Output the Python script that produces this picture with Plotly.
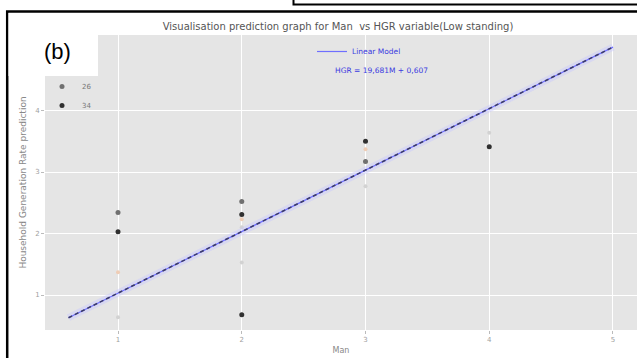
import plotly.graph_objects as go

# Observed predictions, grouped by colour category
man_34 = [1, 2, 2, 3, 4]
hgr_34 = [2.03, 2.31, 0.68, 3.50, 3.41]
man_26 = [1, 2, 3]
hgr_26 = [2.34, 2.52, 3.17]
man_light = [1, 2, 3]
hgr_light = [1.37, 2.23, 3.37]
man_pale = [1, 2, 2, 3, 4]
hgr_pale = [0.64, 1.53, 2.10, 2.77, 3.64]

# Linear model HGR = slope * M + intercept
slope = 19.681
intercept = 0.607
fit_man = [0.6, 5.0]
fit_hgr = [slope * m + intercept for m in fit_man]

x_ticks = [1, 2, 3, 4, 5]
y_ticks = [1, 2, 3, 4]

W, H = 637, 358
L, R, T, B = 45, 0, 35, 28
x_range = [0.41, 5.194]
y_range = [0.431, 5.228]


def px_x(px):
    return (px - L) / (W - L - R)


def px_y(py):
    return (H - B - py) / (H - B - T)


FONT = "DejaVu Sans"
fig = go.Figure()

fig.add_trace(go.Scatter(x=man_pale, y=hgr_pale, mode="markers", showlegend=False,
                         marker=dict(size=4, color="#d2d2d2")))
fig.add_trace(go.Scatter(x=man_light, y=hgr_light, mode="markers", showlegend=False,
                         marker=dict(size=4, color="#efcdb6")))
fig.add_trace(go.Scatter(x=man_26, y=hgr_26, mode="markers", name="26",
                         marker=dict(size=5, color="#707070")))
fig.add_trace(go.Scatter(x=man_34, y=hgr_34, mode="markers", name="34",
                         marker=dict(size=5, color="#303030")))

# Fitted line on a secondary HGR scale
fig.add_trace(go.Scatter(x=fit_man, y=fit_hgr, yaxis="y2", mode="lines", showlegend=False,
                         line=dict(color="rgba(200,200,255,0.45)", width=7), hoverinfo="skip"))
fig.add_trace(go.Scatter(x=fit_man, y=fit_hgr, yaxis="y2", mode="lines", name="Linear Model",
                         legend="legend2", line=dict(color="#6f6fff", width=1.2)))
fig.add_trace(go.Scatter(x=fit_man, y=fit_hgr, yaxis="y2", mode="lines", showlegend=False,
                         line=dict(color="#3b3b6a", width=1.6, dash="4px,3px"), hoverinfo="skip"))

shapes = [
    # frame of the panel above
    dict(type="path", xref="paper", yref="paper",
         path=f"M {px_x(293.5)} {px_y(-2)} L {px_x(293.5)} {px_y(4.5)} L {px_x(640)} {px_y(4.5)}",
         line=dict(color="black", width=2)),
    # panel frame
    dict(type="path", xref="paper", yref="paper",
         path=f"M {px_x(7.2)} {px_y(362)} L {px_x(7.2)} {px_y(11.5)} L {px_x(640)} {px_y(11.5)}",
         line=dict(color="black", width=2.5)),
    # label background
    dict(type="rect", xref="paper", yref="paper", layer="above",
         x0=px_x(8.5), x1=px_x(98), y0=px_y(76), y1=px_y(13),
         fillcolor="white", line=dict(width=0)),
]

annotations = [
    dict(text="(b)", xref="paper", yref="paper", x=px_x(57), y=px_y(52),
         showarrow=False, font=dict(family="Liberation Sans", size=22, color="black"),
         xanchor="center", yanchor="middle"),
    dict(text=f"HGR = {slope:.3f}M + {intercept:.3f}".replace(".", ","),
         xref="paper", yref="paper", x=px_x(333), y=px_y(70),
         showarrow=False, font=dict(family=FONT, size=7.5, color="#3a3ae0"),
         xanchor="left", yanchor="middle"),
]

fig.update_layout(
    width=W, height=H,
    margin=dict(l=L, r=R, t=T, b=B),
    paper_bgcolor="white",
    plot_bgcolor="#e5e5e5",
    font=dict(family=FONT, color="#888888"),
    title=dict(text="Visualisation prediction graph for Man  vs HGR variable(Low standing)",
               x=338 / W, xref="container", y=1 - 26 / H, yref="container",
               xanchor="center", yanchor="middle",
               font=dict(family=FONT, size=10, color="#555555")),
    xaxis=dict(range=x_range, tickvals=x_ticks, showgrid=True, gridcolor="white", gridwidth=1,
               zeroline=False, ticks="outside", ticklen=3, tickcolor="#bbbbbb",
               tickfont=dict(size=7, color="#a0a0a0"),
               title=dict(text="Man", font=dict(size=8, color="#888888"), standoff=3)),
    yaxis=dict(range=y_range, tickvals=y_ticks, showgrid=True, gridcolor="white", gridwidth=1,
               zeroline=False, ticks="outside", ticklen=3, tickcolor="#bbbbbb",
               tickfont=dict(size=7, color="#a0a0a0"),
               title=dict(text="Household Generation Rate prediction",
                          font=dict(size=9, color="#888888"), standoff=6)),
    yaxis2=dict(range=[v * slope for v in y_range], overlaying="y", visible=False),
    legend=dict(x=px_x(42), y=px_y(72), xanchor="left", yanchor="top",
                bgcolor="rgba(0,0,0,0)", font=dict(size=7, color="#777777"),
                itemwidth=30, tracegroupgap=0),
    legend2=dict(x=px_x(312), y=px_y(37), xanchor="left", yanchor="top",
                 bgcolor="rgba(0,0,0,0)", font=dict(size=7.5, color="#3a3ae0"),
                 itemwidth=30),
    shapes=shapes,
    annotations=annotations,
)

fig.write_html("out.html")
